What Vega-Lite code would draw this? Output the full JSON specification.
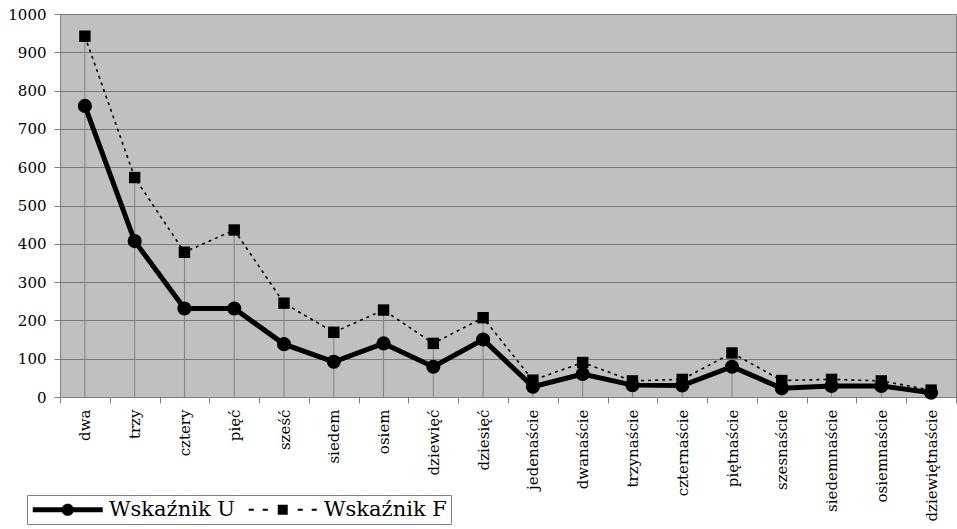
{
  "$schema": "https://vega.github.io/schema/vega-lite/v6.json",
  "width": 896,
  "height": 383,
  "autosize": "none",
  "padding": {"left": 60, "top": 14, "right": 1, "bottom": 132},
  "background": "white",
  "data": {
    "values": [
      {"k": "dwa", "Wskaźnik U": 760, "Wskaźnik F": 942},
      {"k": "trzy", "Wskaźnik U": 407, "Wskaźnik F": 573},
      {"k": "cztery", "Wskaźnik U": 231, "Wskaźnik F": 378},
      {"k": "pięć", "Wskaźnik U": 231, "Wskaźnik F": 436},
      {"k": "sześć", "Wskaźnik U": 138, "Wskaźnik F": 245},
      {"k": "siedem", "Wskaźnik U": 92, "Wskaźnik F": 169},
      {"k": "osiem", "Wskaźnik U": 140, "Wskaźnik F": 227},
      {"k": "dziewięć", "Wskaźnik U": 79, "Wskaźnik F": 140},
      {"k": "dziesięć", "Wskaźnik U": 150, "Wskaźnik F": 207},
      {"k": "jedenaście", "Wskaźnik U": 27, "Wskaźnik F": 44},
      {"k": "dwanaście", "Wskaźnik U": 60, "Wskaźnik F": 90},
      {"k": "trzynaście", "Wskaźnik U": 31, "Wskaźnik F": 42},
      {"k": "czternaście", "Wskaźnik U": 30, "Wskaźnik F": 46},
      {"k": "piętnaście", "Wskaźnik U": 79, "Wskaźnik F": 115},
      {"k": "szesnaście", "Wskaźnik U": 23, "Wskaźnik F": 43},
      {"k": "siedemnaście", "Wskaźnik U": 29, "Wskaźnik F": 46},
      {"k": "osiemnaście", "Wskaźnik U": 29, "Wskaźnik F": 42},
      {"k": "dziewiętnaście", "Wskaźnik U": 11, "Wskaźnik F": 18}
    ]
  },
  "encoding": {
    "x": {
      "field": "k",
      "type": "nominal",
      "sort": null,
      "title": null,
      "scale": {"type": "band", "paddingInner": 0, "paddingOuter": 0},
      "axis": {
        "labelAngle": 270,
        "labelAlign": "right",
        "labelBaseline": "middle",
        "labelFont": "DejaVu Serif",
        "labelFontSize": 15,
        "labelColor": "black",
        "labelPadding": 6,
        "tickBand": "extent",
        "tickColor": "#808080",
        "tickSize": 6,
        "domainColor": "#808080",
        "grid": false,
        "labelOverlap": false
      }
    }
  },
  "layer": [
    {
      "mark": {"type": "rule", "color": "#808080", "strokeWidth": 1},
      "encoding": {
        "y": {
          "field": "Wskaźnik F",
          "type": "quantitative",
          "title": null,
          "scale": {"domain": [0, 1000], "nice": false},
          "axis": {"values": [0, 100, 200, 300, 400, 500, 600, 700, 800, 900, 1000], "format": "d", "labelOverlap": false}
        },
        "y2": {"datum": 0}
      }
    },
    {
      "mark": {"type": "line", "color": "black", "strokeWidth": 1.6, "strokeDash": [3, 4]},
      "encoding": {"y": {"field": "Wskaźnik F", "type": "quantitative", "title": null, "axis": {"values": [0, 100, 200, 300, 400, 500, 600, 700, 800, 900, 1000], "format": "d", "labelOverlap": false}}}
    },
    {
      "mark": {"type": "point", "shape": "square", "filled": true, "color": "black", "size": 130, "opacity": 1},
      "encoding": {"y": {"field": "Wskaźnik F", "type": "quantitative", "title": null, "axis": {"values": [0, 100, 200, 300, 400, 500, 600, 700, 800, 900, 1000], "format": "d", "labelOverlap": false}}}
    },
    {
      "mark": {"type": "line", "color": "black", "strokeWidth": 5},
      "encoding": {"y": {"field": "Wskaźnik U", "type": "quantitative", "title": null, "axis": {"values": [0, 100, 200, 300, 400, 500, 600, 700, 800, 900, 1000], "format": "d", "labelOverlap": false}}}
    },
    {
      "mark": {"type": "point", "shape": "circle", "filled": true, "color": "black", "size": 200, "opacity": 1},
      "encoding": {"y": {"field": "Wskaźnik U", "type": "quantitative", "title": null, "axis": {"values": [0, 100, 200, 300, 400, 500, 600, 700, 800, 900, 1000], "format": "d", "labelOverlap": false}}}
    },
    {
      "transform": [{"fold": ["Wskaźnik U", "Wskaźnik F"], "as": ["series", "value"]}],
      "mark": {"type": "point", "opacity": 0, "filled": true, "color": "black"},
      "encoding": {
        "y": {"field": "value", "type": "quantitative", "title": null, "axis": {"values": [0, 100, 200, 300, 400, 500, 600, 700, 800, 900, 1000], "format": "d", "labelOverlap": false}},
        "shape": {
          "field": "series",
          "type": "nominal",
          "scale": {
            "domain": ["Wskaźnik U", "Wskaźnik F"],
            "range": [
              "M-1,-0.29H7V0.29H-1Z M2.3,0A0.7,0.7,0,1,1,3.7,0A0.7,0.7,0,1,1,2.3,0Z",
              "M-0.89,-0.12H-0.31V0.12H-0.89Z M0.71,-0.12H1.29V0.12H0.71Z M2.43,-0.57H3.57V0.57H2.43Z M4.71,-0.12H5.29V0.12H4.71Z M6.31,-0.12H6.89V0.12H6.31Z"
            ]
          },
          "legend": {
            "title": null,
            "orient": "none",
            "legendX": -33,
            "legendY": 481,
            "direction": "horizontal",
            "strokeColor": "#808080",
            "fillColor": "white",
            "padding": 4,
            "symbolSize": 306,
            "symbolStrokeWidth": 0,
            "labelOffset": 57,
            "columnPadding": 10,
            "labelFont": "DejaVu Serif",
            "labelFontSize": 21,
            "labelColor": "black",
            "labelLimit": 300,
            "encode": {
              "symbols": {
                "fill": {"value": "black"},
                "opacity": {"value": 1},
                "strokeWidth": {"value": 0}
              }
            }
          }
        }
      }
    }
  ],
  "config": {
    "view": {"fill": "#c0c0c0", "stroke": "#808080", "strokeWidth": 1},
    "axisY": {
      "labelFont": "DejaVu Serif",
      "labelFontSize": 15,
      "labelColor": "black",
      "labelPadding": 8,
      "tickColor": "#808080",
      "tickSize": 6,
      "domain": false,
      "grid": true,
      "gridColor": "#7a7a7a",
      "gridWidth": 1,
      "gridOpacity": 1
    }
  }
}
